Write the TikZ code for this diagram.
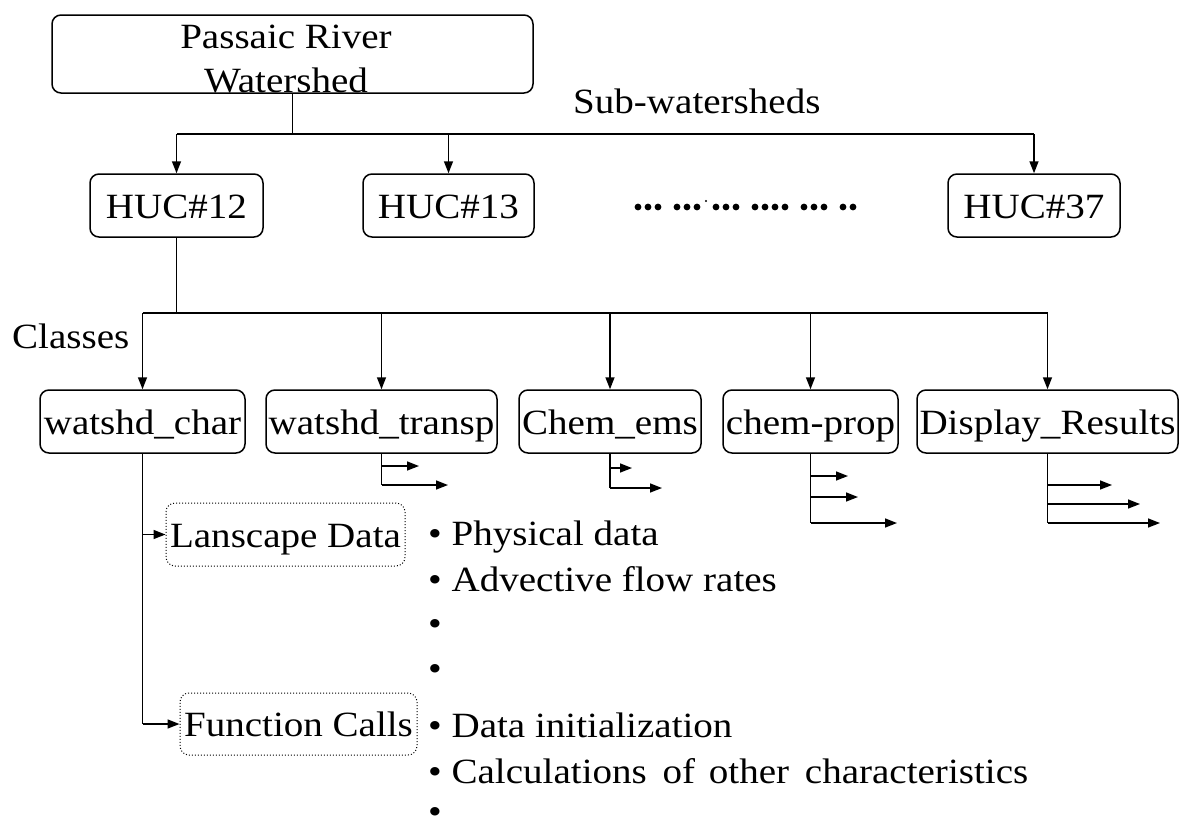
\documentclass[tikz,border=0pt]{standalone}
\usepackage{fontspec}
\setmainfont{Liberation Serif}[FakeStretch=1.1]
\usetikzlibrary{arrows.meta}
\begin{document}
\begin{tikzpicture}[x=1pt,y=-1pt,
  every node/.style={font=\fontsize{35.5}{45}\selectfont, inner sep=0pt},
  box/.style={draw, line width=1.5pt, rounded corners=9pt,
    text height=25pt, text depth=0pt, minimum height=63pt},
  dotbox/.style={draw, dotted, line width=1pt, rounded corners=9pt,
    text height=25pt, text depth=0pt, minimum height=63pt},
  conn/.style={line width=1.5pt},
  arr/.style={conn, -{Triangle[length=12pt,width=9pt]}},
  txt/.style={anchor=base west}
]
\fill[white] (0,0) rectangle (1181,817);
\useasboundingbox (0,0) rectangle (1181,817);

% watershed root
\node[box, minimum width=481pt, minimum height=78pt] (top) at (292.5,54) {};
\node[anchor=base] (topA) at (286,48) {Passaic River};
\node[anchor=base] (topB) at (286,92) {Watershed};

% sub-watersheds
\node[box, minimum width=173pt] (h12) at (176.5,205.5) {HUC\#12};
\node[box, minimum width=171pt] (h13) at (448.5,205.5) {HUC\#13};
\node[box, minimum width=172pt] (h37) at (1034,205.5) {HUC\#37};
\node[txt] (subw) at (573,113) {Sub-watersheds};

\coordinate (j1) at (292.5,134);
\draw[conn] (top.south) -- (j1);
\draw[conn] (h12.north |- j1) -- (h37.north |- j1);
\draw[arr] (h12.north |- j1) -- (h12.north);
\draw[arr] (h13.north |- j1) -- (h13.north);
\draw[arr] (h37.north |- j1) -- (h37.north);

% elided sub-watersheds
\foreach \x in {638,648,658, 677,687,697, 716,726,736, 755,765,775,785, 804,814,824, 843,853}
  \fill (\x,207) circle (3.4pt);
\fill (706,201) circle (1.1pt);

% classes
\node[txt] (cls) at (12,348) {Classes};
\node[box, minimum width=205pt] (c1) at (142.5,421.5) {watshd\_char};
\node[box, minimum width=231pt] (c2) at (381.5,421.5) {watshd\_transp};
\node[box, minimum width=182pt] (c3) at (610,421.5) {Chem\_ems};
\node[box, minimum width=175pt] (c4) at (810.5,421.5) {chem-prop};
\node[box, minimum width=261pt] (c5) at (1047.5,421.5) {Display\_Results};

\coordinate (j2) at (176.5,313);
\draw[conn] (h12.south) -- (j2);
\draw[conn] (c1.north |- j2) -- (c5.north |- j2);
\foreach \c in {c1,c2,c3,c4,c5}
  \draw[arr] (\c.north |- j2) -- (\c.north);

% member branches
\coordinate (c2a) at (419,466);
\coordinate (c2b) at (448,485);
\draw[conn] (c2.south) -- (c2.south |- c2b);
\draw[arr] (c2.south |- c2a) -- (c2a);
\draw[arr] (c2.south |- c2b) -- (c2b);

\coordinate (c3a) at (632,468);
\coordinate (c3b) at (662,488);
\draw[conn] (c3.south) -- (c3.south |- c3b);
\draw[arr] (c3.south |- c3a) -- (c3a);
\draw[arr] (c3.south |- c3b) -- (c3b);

\coordinate (c4a) at (848,476);
\coordinate (c4b) at (858,497);
\coordinate (c4c) at (897,523);
\draw[conn] (c4.south) -- (c4.south |- c4c);
\draw[arr] (c4.south |- c4a) -- (c4a);
\draw[arr] (c4.south |- c4b) -- (c4b);
\draw[arr] (c4.south |- c4c) -- (c4c);

\coordinate (c5a) at (1112,485);
\coordinate (c5b) at (1140,504);
\coordinate (c5c) at (1160,523);
\draw[conn] (c5.south) -- (c5.south |- c5c);
\draw[arr] (c5.south |- c5a) -- (c5a);
\draw[arr] (c5.south |- c5b) -- (c5b);
\draw[arr] (c5.south |- c5c) -- (c5c);

% watshd_char members
\node[dotbox, minimum width=239pt] (land) at (285.5,534.5) {Lanscape Data};
\node[dotbox, minimum width=237pt, minimum height=62pt] (func) at (298.5,724) {Function Calls};
\draw[conn] (c1.south) -- (c1.south |- func.west);
\draw[arr] (c1.south |- land.west) -- (land.west);
\draw[arr] (c1.south |- func.west) -- (func.west);

% member details
\node[txt] (b1) at (428,545) {• Physical data};
\node[txt] (b2) at (428,591) {• Advective flow rates};
\node[txt] (b3) at (428,635) {•};
\node[txt] (b4) at (428,680) {•};
\node[txt] (b5) at (428,737) {• Data initialization};
\node[txt] (b6) at (428,783) {• Calculations \hspace{6pt}of \hspace{4pt}other \hspace{6pt}characteristics};
\node[txt] (b7) at (428,823) {•};
\end{tikzpicture}
\end{document}
